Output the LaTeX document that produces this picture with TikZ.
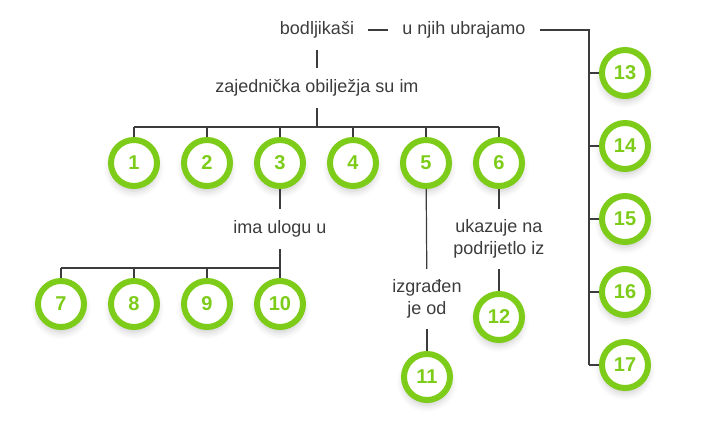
\documentclass[tikz,border=0pt]{standalone}
\usepackage{fontspec}
\setmainfont{Liberation Sans}
\usetikzlibrary{positioning, shadows.blur}
\definecolor{leafgreen}{RGB}{126,204,26}
\definecolor{inkgray}{RGB}{60,60,60}

\begin{document}
\begin{tikzpicture}[
  x=1pt, y=-1pt,
  lbl/.style={text=inkgray, font=\fontsize{18}{22}\selectfont, inner xsep=14pt, inner ysep=11.5pt, text height=13pt, text depth=4pt},
  lbltwo/.style={text=inkgray, font=\fontsize{18}{22}\selectfont, align=center, inner xsep=14pt, inner ysep=10.5pt},
  num/.style={circle, draw=leafgreen, line width=6pt, fill=white, minimum size=46pt, inner sep=0pt,
    text=leafgreen, font=\fontsize{20}{24}\selectfont\bfseries,
    blur shadow={shadow xshift=0pt, shadow yshift=-5pt, shadow blur radius=7pt, shadow opacity=22}},
  link/.style={draw=inkgray, line width=1.2pt}
]
\useasboundingbox (0,0) rectangle (705,435);

% labels
\node[lbl] (bod) at (317,30) {bodljikaši};
\node[lbl] (ubr) at (464,30) {u njih ubrajamo};
\node[lbl] (zaj) at (317,88) {zajednička obilježja su im};
\node[lbl] (ima) at (280,229) {ima ulogu u};
\node[lbltwo] (izg) at (427,299) {izgrađen\\je od};
\node[lbltwo] (uka) at (499,239) {ukazuje na\\podrijetlo iz};

% circles
\node[num] (n1) at (134,163) {1};
\node[num, right=21pt of n1] (n2) {2};
\node[num, right=21pt of n2] (n3) {3};
\node[num, right=21pt of n3] (n4) {4};
\node[num, right=21pt of n4] (n5) {5};
\node[num, right=21pt of n5] (n6) {6};
\node[num] (n7) at (61,304) {7};
\node[num, right=21pt of n7] (n8) {8};
\node[num, right=21pt of n8] (n9) {9};
\node[num, right=21pt of n9] (n10) {10};
\node[num] (n11) at (427,377) {11};
\node[num] (n12) at (499,317) {12};
\foreach \k/\y in {13/73, 14/146, 15/219, 16/292, 17/365}
  \node[num] (n\k) at (625,\y) {\k};

\coordinate (bar1) at (317,127);
\coordinate (bar2) at (280,268);
\coordinate (col) at (589,30);

% connectors
\draw[link] (bod) -- (zaj);
\draw[link] (bod) -- (ubr);
\draw[link] (zaj) -- (bar1);
\draw[link] (n1 |- bar1) -- (n6 |- bar1);
\foreach \k in {1,...,6}
  \draw[link] (n\k) -- (n\k |- bar1);
\draw[link] (n3) -- (ima);
\draw[link] (ima) -- (bar2);
\draw[link] (n7 |- bar2) -- (bar2);
\foreach \k in {7,...,10}
  \draw[link] (n\k) -- (n\k |- bar2);
\draw[link] (n5) -- (izg);
\draw[link] (izg) -- (n11);
\draw[link] (n6) -- (uka);
\draw[link] (uka) -- (n12);
\draw[link] (ubr) -- (col) -- (col |- n17);
\foreach \k in {13,...,17}
  \draw[link] (n\k) -- (col |- n\k);
\end{tikzpicture}
\end{document}
